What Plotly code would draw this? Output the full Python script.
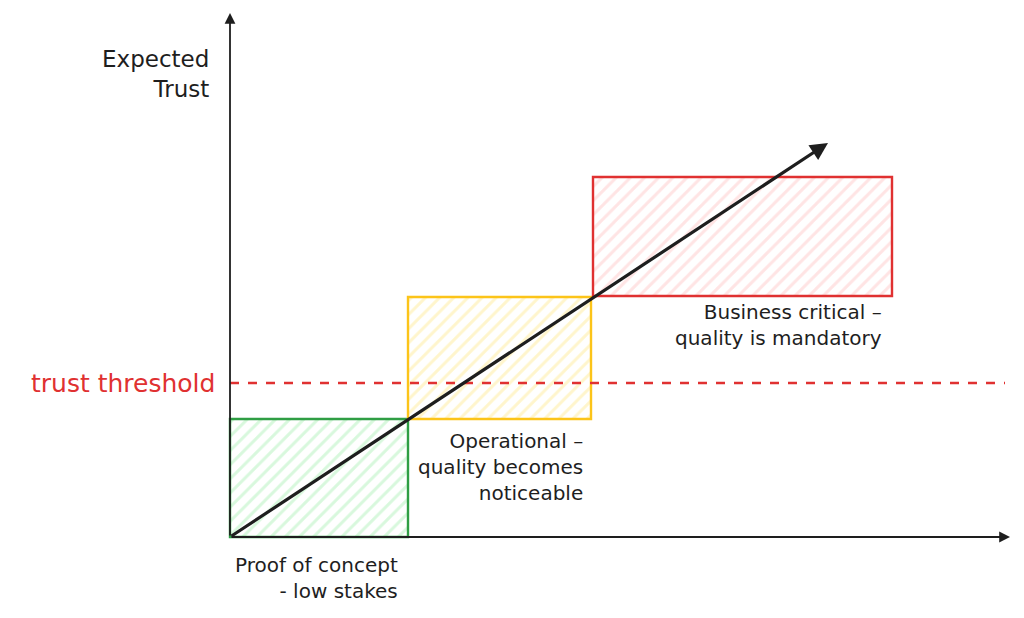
import plotly.graph_objects as go

# stages of the trust ladder (x = project maturity, y = expected trust)
stage_labels = ["Proof of concept<br>- low stakes",
                "Operational –<br>quality becomes<br>noticeable",
                "Business critical –<br>quality is mandatory"]
stage_start = [0, 178, 363]
stage_end = [178, 361, 662]
trust_low = [0, 118, 241]
trust_high = [118, 240, 360]
line_colors = ["#2f9e44", "#fcc419", "#e03131"]
fill_colors = ["#b2f2bb", "#ffec99", "#ffc9c9"]

threshold = 154
trend_x = [0, 598]
trend_y = [0, 394]
x_max = 780
y_max = 524

FONT = "DejaVu Sans"
INK = "#1e1e1e"

fig = go.Figure()

for i in range(len(stage_start)):
    w = stage_end[i] - stage_start[i]
    fig.add_trace(go.Bar(
        x=[stage_start[i] + w / 2], y=[trust_high[i] - trust_low[i]],
        base=[trust_low[i]], width=[w],
        marker=dict(color="white", line=dict(color=line_colors[i], width=2.4),
                    pattern=dict(shape="/", fgcolor=fill_colors[i], bgcolor="white",
                                 size=10, solidity=0.3, fillmode="overlay")),
        hoverinfo="skip", showlegend=False))

# trust threshold
fig.add_shape(type="line", x0=0, x1=x_max - 5, y0=threshold, y1=threshold,
              line=dict(color="#e03131", width=2.5, dash="dash"))

annotations = []
# axes as arrows
annotations.append(dict(x=x_max, y=0, ax=0, ay=0, xref="x", yref="y", axref="x", ayref="y",
                        showarrow=True, arrowhead=2, arrowsize=1.2, arrowwidth=1.8,
                        arrowcolor=INK, text=""))
annotations.append(dict(x=0, y=y_max, ax=0, ay=0, xref="x", yref="y", axref="x", ayref="y",
                        showarrow=True, arrowhead=2, arrowsize=1.2, arrowwidth=1.8,
                        arrowcolor=INK, text=""))
# trend arrow
annotations.append(dict(x=trend_x[1], y=trend_y[1], ax=trend_x[0], ay=trend_y[0],
                        xref="x", yref="y", axref="x", ayref="y",
                        showarrow=True, arrowhead=2, arrowsize=1.1, arrowwidth=3.2,
                        arrowcolor=INK, text=""))

# texts
annotations.append(dict(x=-19, y=463, xref="x", yref="y", text="Expected<br>Trust",
                        showarrow=False, xanchor="right", yanchor="middle", align="right",
                        font=dict(family=FONT, size=23, color=INK)))
annotations.append(dict(x=-13, y=threshold, xref="x", yref="y", text="trust threshold",
                        showarrow=False, xanchor="right", yanchor="middle",
                        font=dict(family=FONT, size=25, color="#e03131")))
label_x = [170, 355, 654]
label_y = [trust_low[0] - 14, trust_low[1] - 8, trust_low[2] - 2]
for i in range(len(stage_labels)):
    annotations.append(dict(x=label_x[i], y=label_y[i], xref="x", yref="y",
                            text=stage_labels[i], showarrow=False,
                            xanchor="right", yanchor="top", align="right",
                            font=dict(family=FONT, size=20, color=INK)))

# the page puts the figure 8px in from the corner, so the ranges are shifted to match
fig.update_layout(
    width=1024, height=618,
    margin=dict(l=0, r=0, t=0, b=0),
    paper_bgcolor="white", plot_bgcolor="white",
    barmode="overlay",
    xaxis=dict(range=[-222, 802], visible=False, fixedrange=True),
    yaxis=dict(range=[-89, 529], visible=False, fixedrange=True),
    annotations=annotations,
)

fig.write_html("out.html")
